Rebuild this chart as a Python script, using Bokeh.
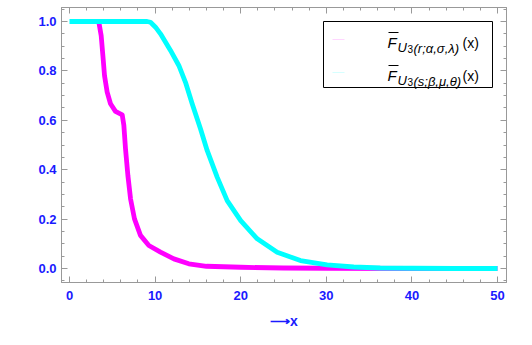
from bokeh.plotting import figure
from bokeh.models import (SingleIntervalTicker, LinearAxis, NumeralTickFormatter, Range1d, Label,
                          CustomJSTickFormatter)
from bokeh.embed import file_html
from bokeh.resources import INLINE

# ---- data ----
x_cyan = [0, 9.07, 9.46, 10.05, 10.63, 11.8, 12.77, 13.55, 14.33, 15.3, 16.08, 17.25, 18.42,
          20.0, 21.93, 24.26, 26.98, 30.1, 33.2, 36.3, 40, 45, 50]
y_cyan = [1.0, 1.0, 0.997, 0.977, 0.95, 0.883, 0.822, 0.754, 0.667, 0.566, 0.478, 0.37, 0.275,
          0.194, 0.12, 0.066, 0.032, 0.015, 0.006, 0.002, 0.001, 0.0, 0.0]

x_mag = [3.43, 3.70, 3.90, 4.09, 4.40, 4.79, 5.37, 6.16, 6.35, 6.54, 6.82, 7.13, 7.59, 8.29,
         9.27, 10.63, 12.19, 13.94, 16.0, 20.0, 25.0, 30.0, 40.0, 50.0]
y_mag = [0.997, 0.943, 0.862, 0.781, 0.714, 0.667, 0.636, 0.622, 0.579, 0.485, 0.377, 0.282,
         0.201, 0.134, 0.093, 0.066, 0.039, 0.019, 0.009, 0.005, 0.002, 0.001, 0.0, 0.0]

legend_params = ["(r;\u03b1,\u03c3,\u03bb)", "(s;\u03b2,\u03bc,\u03b8)"]
legend_colors = ["#ffd6ff", "#d6ffff"]
x_axis_label = "\u27f6x"

# ---- layout ----
XMIN, XMAX = -0.935, 51.05
YMIN, YMAX = -0.0567, 1.0567
FW, FH = 445, 275
LEFT, RIGHT, TOP, BOTTOM = 61, 24, 7, 61
W, H = LEFT + FW + RIGHT, TOP + FH + BOTTOM

FRAME = "#999999"
BLUE = "#1a1aff"
FONT = "Liberation Sans"

p = figure(width=W, height=H, output_backend="svg", toolbar_location=None,
           x_range=Range1d(XMIN, XMAX), y_range=Range1d(YMIN, YMAX),
           x_axis_location=None, y_axis_location=None,
           min_border_left=LEFT, min_border_right=RIGHT,
           min_border_top=TOP, min_border_bottom=BOTTOM)
p.grid.visible = False
p.outline_line_color = FRAME
p.background_fill_color = "white"
p.border_fill_color = "white"


def make_axis(kind, labels):
    if kind == "x":
        t = SingleIntervalTicker(interval=10, num_minor_ticks=5)
        fmt = NumeralTickFormatter(format="0")
    else:
        t = SingleIntervalTicker(interval=0.2, num_minor_ticks=4)
        fmt = NumeralTickFormatter(format="0.0")
    if not labels:
        fmt = CustomJSTickFormatter(code="return ''")
    ax = LinearAxis(ticker=t, formatter=fmt)
    ax.axis_line_color = FRAME
    ax.major_tick_line_color = FRAME
    ax.minor_tick_line_color = FRAME
    ax.major_tick_in = 6
    ax.major_tick_out = 0
    ax.minor_tick_in = 3
    ax.minor_tick_out = 0
    if labels:
        ax.major_label_text_font = FONT
        ax.major_label_text_font_style = "bold"
        ax.major_label_text_font_size = "13px"
        ax.major_label_text_color = BLUE
        ax.major_label_standoff = 8 if kind == "x" else 5
    else:
        ax.major_label_standoff = 0
    return ax


bottom = make_axis("x", True)
bottom.axis_label = x_axis_label
bottom.axis_label_text_font = FONT
bottom.axis_label_text_font_style = "bold"
bottom.axis_label_text_font_size = "14px"
bottom.axis_label_text_color = BLUE
bottom.axis_label_standoff = 10
p.add_layout(bottom, "below")
p.add_layout(make_axis("y", True), "left")
p.add_layout(make_axis("x", False), "above")
p.add_layout(make_axis("y", False), "right")

p.line(x_mag, y_mag, line_color="#ff00ff", line_width=4.8, line_join="round")
p.line(x_cyan, y_cyan, line_color="#00ffff", line_width=4.8, line_join="round")


# ---- legend (drawn manually for the sub/superscript label) ----
def dx(px):
    return XMIN + (px - LEFT) * (XMAX - XMIN) / FW


def dy(py):
    return YMAX - (py - TOP) * (YMAX - YMIN) / FH


p.quad(left=dx(323), right=dx(492), top=dy(21), bottom=dy(87),
       fill_color="white", line_color="black", line_width=1)

for i, (params, col) in enumerate(zip(legend_params, legend_colors)):
    off = 33 * i
    p.line([dx(332), dx(344)], [dy(39 + off), dy(39 + off)], line_color=col, line_width=1)
    p.line([dx(388), dx(398)], [dy(32 + off), dy(32 + off)], line_color="black", line_width=1)
    pieces = [
        ("F", 387, 42, "15px", "italic"),
        ("U", 397, 47, "13px", "italic"),
        ("3", 407, 48.5, "10px", "normal"),
        (params, 413, 47.5, "13px", "italic"),
        ("(x)", 462, 42, "14px", "normal"),
    ]
    for txt, px, py, fs, st in pieces:
        p.add_layout(Label(x=dx(px), y=dy(py + off), text=txt, text_font=FONT,
                           text_font_size=fs, text_font_style=st, text_color="black",
                           text_baseline="alphabetic", text_align="left"))

open("out.html", "w").write(file_html(p, INLINE))
